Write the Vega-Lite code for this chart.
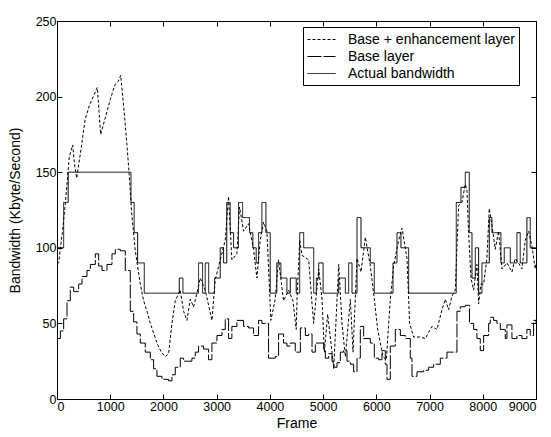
{
  "$schema": "https://vega.github.io/schema/vega-lite/v6.json",
  "autosize": {"type": "none"},
  "padding": {"left": 57, "top": 21, "right": 15, "bottom": 38},
  "width": 479,
  "height": 378,
  "background": "white",
  "config": {
    "view": {"stroke": "black", "strokeWidth": 1},
    "axis": {
      "domainColor": "black", "tickColor": "black", "tickSize": -5, "grid": false,
      "labelFont": "Liberation Sans", "labelFontSize": 12.5, "labelColor": "black",
      "titleFont": "Liberation Sans", "titleFontSize": 14, "titleFontWeight": "normal", "titleColor": "black"
    },
    "legend": {
      "orient": "none", "legendX": 246, "legendY": 6,
      "strokeColor": "black", "fillColor": "white", "padding": 4,
      "symbolType": "M-1,0H2.5", "symbolSize": 256, "symbolStrokeColor": "black", "symbolStrokeWidth": 1,
      "labelFont": "Liberation Sans", "labelFontSize": 14, "labelColor": "black", "labelOffset": 24,
      "labelLimit": 400, "rowPadding": 1, "titlePadding": 0
    }
  },
  "datasets": {
    "actual": [
      {"s": "Actual bandwidth", "f": 0, "v": 100}, {"s": "Actual bandwidth", "f": 125, "v": 130},
      {"s": "Actual bandwidth", "f": 210, "v": 150}, {"s": "Actual bandwidth", "f": 1390, "v": 130},
      {"s": "Actual bandwidth", "f": 1450, "v": 110}, {"s": "Actual bandwidth", "f": 1515, "v": 90},
      {"s": "Actual bandwidth", "f": 1640, "v": 70}, {"s": "Actual bandwidth", "f": 2297, "v": 80},
      {"s": "Actual bandwidth", "f": 2366, "v": 70}, {"s": "Actual bandwidth", "f": 2660, "v": 90},
      {"s": "Actual bandwidth", "f": 2735, "v": 70}, {"s": "Actual bandwidth", "f": 2785, "v": 90},
      {"s": "Actual bandwidth", "f": 2850, "v": 70}, {"s": "Actual bandwidth", "f": 2960, "v": 80},
      {"s": "Actual bandwidth", "f": 3067, "v": 100}, {"s": "Actual bandwidth", "f": 3130, "v": 90},
      {"s": "Actual bandwidth", "f": 3190, "v": 130}, {"s": "Actual bandwidth", "f": 3255, "v": 110},
      {"s": "Actual bandwidth", "f": 3318, "v": 100}, {"s": "Actual bandwidth", "f": 3410, "v": 130},
      {"s": "Actual bandwidth", "f": 3487, "v": 120}, {"s": "Actual bandwidth", "f": 3618, "v": 110},
      {"s": "Actual bandwidth", "f": 3680, "v": 100}, {"s": "Actual bandwidth", "f": 3743, "v": 90},
      {"s": "Actual bandwidth", "f": 3787, "v": 110}, {"s": "Actual bandwidth", "f": 3850, "v": 130},
      {"s": "Actual bandwidth", "f": 3925, "v": 110}, {"s": "Actual bandwidth", "f": 4006, "v": 70},
      {"s": "Actual bandwidth", "f": 4130, "v": 90}, {"s": "Actual bandwidth", "f": 4207, "v": 80},
      {"s": "Actual bandwidth", "f": 4257, "v": 80}, {"s": "Actual bandwidth", "f": 4320, "v": 70},
      {"s": "Actual bandwidth", "f": 4383, "v": 80}, {"s": "Actual bandwidth", "f": 4495, "v": 70},
      {"s": "Actual bandwidth", "f": 4560, "v": 110}, {"s": "Actual bandwidth", "f": 4635, "v": 100},
      {"s": "Actual bandwidth", "f": 4823, "v": 70}, {"s": "Actual bandwidth", "f": 4873, "v": 80},
      {"s": "Actual bandwidth", "f": 4917, "v": 90}, {"s": "Actual bandwidth", "f": 5000, "v": 70},
      {"s": "Actual bandwidth", "f": 5293, "v": 80}, {"s": "Actual bandwidth", "f": 5418, "v": 70},
      {"s": "Actual bandwidth", "f": 5480, "v": 90}, {"s": "Actual bandwidth", "f": 5543, "v": 70},
      {"s": "Actual bandwidth", "f": 5637, "v": 120}, {"s": "Actual bandwidth", "f": 5712, "v": 100},
      {"s": "Actual bandwidth", "f": 5887, "v": 90}, {"s": "Actual bandwidth", "f": 5962, "v": 70},
      {"s": "Actual bandwidth", "f": 6313, "v": 90}, {"s": "Actual bandwidth", "f": 6388, "v": 110},
      {"s": "Actual bandwidth", "f": 6463, "v": 100}, {"s": "Actual bandwidth", "f": 6607, "v": 70},
      {"s": "Actual bandwidth", "f": 7502, "v": 130}, {"s": "Actual bandwidth", "f": 7590, "v": 140},
      {"s": "Actual bandwidth", "f": 7671, "v": 150}, {"s": "Actual bandwidth", "f": 7746, "v": 110},
      {"s": "Actual bandwidth", "f": 7797, "v": 80}, {"s": "Actual bandwidth", "f": 7860, "v": 100},
      {"s": "Actual bandwidth", "f": 7922, "v": 70}, {"s": "Actual bandwidth", "f": 7984, "v": 90},
      {"s": "Actual bandwidth", "f": 8122, "v": 120}, {"s": "Actual bandwidth", "f": 8172, "v": 110},
      {"s": "Actual bandwidth", "f": 8341, "v": 90}, {"s": "Actual bandwidth", "f": 8404, "v": 100},
      {"s": "Actual bandwidth", "f": 8517, "v": 90}, {"s": "Actual bandwidth", "f": 8641, "v": 110},
      {"s": "Actual bandwidth", "f": 8704, "v": 90}, {"s": "Actual bandwidth", "f": 8829, "v": 120},
      {"s": "Actual bandwidth", "f": 8892, "v": 100}, {"s": "Actual bandwidth", "f": 9000, "v": 100}
    ],
    "enh": [
      {"s": "Base + enhancement layer", "f": 0, "v": 90}, {"s": "Base + enhancement layer", "f": 31, "v": 90},
      {"s": "Base + enhancement layer", "f": 100, "v": 110}, {"s": "Base + enhancement layer", "f": 156, "v": 129},
      {"s": "Base + enhancement layer", "f": 230, "v": 160}, {"s": "Base + enhancement layer", "f": 295, "v": 168},
      {"s": "Base + enhancement layer", "f": 330, "v": 155}, {"s": "Base + enhancement layer", "f": 370, "v": 146},
      {"s": "Base + enhancement layer", "f": 450, "v": 165}, {"s": "Base + enhancement layer", "f": 530, "v": 185},
      {"s": "Base + enhancement layer", "f": 607, "v": 194}, {"s": "Base + enhancement layer", "f": 680, "v": 200},
      {"s": "Base + enhancement layer", "f": 758, "v": 206}, {"s": "Base + enhancement layer", "f": 790, "v": 190},
      {"s": "Base + enhancement layer", "f": 820, "v": 175}, {"s": "Base + enhancement layer", "f": 900, "v": 185},
      {"s": "Base + enhancement layer", "f": 1000, "v": 198}, {"s": "Base + enhancement layer", "f": 1090, "v": 208},
      {"s": "Base + enhancement layer", "f": 1150, "v": 210}, {"s": "Base + enhancement layer", "f": 1197, "v": 214},
      {"s": "Base + enhancement layer", "f": 1259, "v": 191}, {"s": "Base + enhancement layer", "f": 1310, "v": 170},
      {"s": "Base + enhancement layer", "f": 1353, "v": 150}, {"s": "Base + enhancement layer", "f": 1403, "v": 123},
      {"s": "Base + enhancement layer", "f": 1471, "v": 98}, {"s": "Base + enhancement layer", "f": 1565, "v": 76},
      {"s": "Base + enhancement layer", "f": 1628, "v": 65}, {"s": "Base + enhancement layer", "f": 1700, "v": 57},
      {"s": "Base + enhancement layer", "f": 1753, "v": 50}, {"s": "Base + enhancement layer", "f": 1878, "v": 37},
      {"s": "Base + enhancement layer", "f": 1960, "v": 31}, {"s": "Base + enhancement layer", "f": 2035, "v": 28},
      {"s": "Base + enhancement layer", "f": 2097, "v": 30}, {"s": "Base + enhancement layer", "f": 2160, "v": 50},
      {"s": "Base + enhancement layer", "f": 2222, "v": 65}, {"s": "Base + enhancement layer", "f": 2316, "v": 72},
      {"s": "Base + enhancement layer", "f": 2379, "v": 58}, {"s": "Base + enhancement layer", "f": 2441, "v": 52},
      {"s": "Base + enhancement layer", "f": 2504, "v": 66}, {"s": "Base + enhancement layer", "f": 2567, "v": 61},
      {"s": "Base + enhancement layer", "f": 2629, "v": 70}, {"s": "Base + enhancement layer", "f": 2692, "v": 80},
      {"s": "Base + enhancement layer", "f": 2786, "v": 72}, {"s": "Base + enhancement layer", "f": 2911, "v": 52},
      {"s": "Base + enhancement layer", "f": 2974, "v": 79}, {"s": "Base + enhancement layer", "f": 3067, "v": 92},
      {"s": "Base + enhancement layer", "f": 3161, "v": 105}, {"s": "Base + enhancement layer", "f": 3224, "v": 134},
      {"s": "Base + enhancement layer", "f": 3286, "v": 92}, {"s": "Base + enhancement layer", "f": 3380, "v": 96},
      {"s": "Base + enhancement layer", "f": 3430, "v": 127}, {"s": "Base + enhancement layer", "f": 3506, "v": 111},
      {"s": "Base + enhancement layer", "f": 3600, "v": 116}, {"s": "Base + enhancement layer", "f": 3693, "v": 99},
      {"s": "Base + enhancement layer", "f": 3756, "v": 80}, {"s": "Base + enhancement layer", "f": 3818, "v": 105},
      {"s": "Base + enhancement layer", "f": 3881, "v": 117}, {"s": "Base + enhancement layer", "f": 3944, "v": 111},
      {"s": "Base + enhancement layer", "f": 4019, "v": 52}, {"s": "Base + enhancement layer", "f": 4100, "v": 66},
      {"s": "Base + enhancement layer", "f": 4163, "v": 92}, {"s": "Base + enhancement layer", "f": 4257, "v": 65},
      {"s": "Base + enhancement layer", "f": 4351, "v": 72}, {"s": "Base + enhancement layer", "f": 4433, "v": 65},
      {"s": "Base + enhancement layer", "f": 4495, "v": 46}, {"s": "Base + enhancement layer", "f": 4510, "v": 66},
      {"s": "Base + enhancement layer", "f": 4560, "v": 105}, {"s": "Base + enhancement layer", "f": 4604, "v": 95},
      {"s": "Base + enhancement layer", "f": 4729, "v": 92}, {"s": "Base + enhancement layer", "f": 4792, "v": 63},
      {"s": "Base + enhancement layer", "f": 4823, "v": 50}, {"s": "Base + enhancement layer", "f": 4917, "v": 86},
      {"s": "Base + enhancement layer", "f": 4980, "v": 66}, {"s": "Base + enhancement layer", "f": 5023, "v": 31},
      {"s": "Base + enhancement layer", "f": 5086, "v": 56}, {"s": "Base + enhancement layer", "f": 5167, "v": 31},
      {"s": "Base + enhancement layer", "f": 5199, "v": 20}, {"s": "Base + enhancement layer", "f": 5293, "v": 89},
      {"s": "Base + enhancement layer", "f": 5355, "v": 50}, {"s": "Base + enhancement layer", "f": 5418, "v": 28},
      {"s": "Base + enhancement layer", "f": 5512, "v": 66}, {"s": "Base + enhancement layer", "f": 5562, "v": 31},
      {"s": "Base + enhancement layer", "f": 5637, "v": 93}, {"s": "Base + enhancement layer", "f": 5712, "v": 84},
      {"s": "Base + enhancement layer", "f": 5793, "v": 107}, {"s": "Base + enhancement layer", "f": 5887, "v": 88},
      {"s": "Base + enhancement layer", "f": 5962, "v": 66}, {"s": "Base + enhancement layer", "f": 6025, "v": 46},
      {"s": "Base + enhancement layer", "f": 6125, "v": 28}, {"s": "Base + enhancement layer", "f": 6188, "v": 26},
      {"s": "Base + enhancement layer", "f": 6263, "v": 66}, {"s": "Base + enhancement layer", "f": 6325, "v": 88},
      {"s": "Base + enhancement layer", "f": 6419, "v": 105}, {"s": "Base + enhancement layer", "f": 6482, "v": 113},
      {"s": "Base + enhancement layer", "f": 6576, "v": 93}, {"s": "Base + enhancement layer", "f": 6626, "v": 50},
      {"s": "Base + enhancement layer", "f": 6701, "v": 41}, {"s": "Base + enhancement layer", "f": 6826, "v": 41},
      {"s": "Base + enhancement layer", "f": 6920, "v": 40}, {"s": "Base + enhancement layer", "f": 7045, "v": 48},
      {"s": "Base + enhancement layer", "f": 7139, "v": 46}, {"s": "Base + enhancement layer", "f": 7233, "v": 59},
      {"s": "Base + enhancement layer", "f": 7296, "v": 66}, {"s": "Base + enhancement layer", "f": 7358, "v": 59},
      {"s": "Base + enhancement layer", "f": 7421, "v": 68}, {"s": "Base + enhancement layer", "f": 7483, "v": 72},
      {"s": "Base + enhancement layer", "f": 7546, "v": 128}, {"s": "Base + enhancement layer", "f": 7609, "v": 130},
      {"s": "Base + enhancement layer", "f": 7671, "v": 142}, {"s": "Base + enhancement layer", "f": 7703, "v": 138},
      {"s": "Base + enhancement layer", "f": 7734, "v": 110}, {"s": "Base + enhancement layer", "f": 7778, "v": 80},
      {"s": "Base + enhancement layer", "f": 7828, "v": 72}, {"s": "Base + enhancement layer", "f": 7890, "v": 89},
      {"s": "Base + enhancement layer", "f": 7922, "v": 63}, {"s": "Base + enhancement layer", "f": 7966, "v": 76},
      {"s": "Base + enhancement layer", "f": 8016, "v": 76}, {"s": "Base + enhancement layer", "f": 8078, "v": 93},
      {"s": "Base + enhancement layer", "f": 8122, "v": 126}, {"s": "Base + enhancement layer", "f": 8172, "v": 115},
      {"s": "Base + enhancement layer", "f": 8234, "v": 99}, {"s": "Base + enhancement layer", "f": 8297, "v": 111},
      {"s": "Base + enhancement layer", "f": 8360, "v": 86}, {"s": "Base + enhancement layer", "f": 8454, "v": 90},
      {"s": "Base + enhancement layer", "f": 8548, "v": 84}, {"s": "Base + enhancement layer", "f": 8610, "v": 93},
      {"s": "Base + enhancement layer", "f": 8673, "v": 90}, {"s": "Base + enhancement layer", "f": 8735, "v": 86},
      {"s": "Base + enhancement layer", "f": 8798, "v": 105}, {"s": "Base + enhancement layer", "f": 8861, "v": 111},
      {"s": "Base + enhancement layer", "f": 8924, "v": 101}, {"s": "Base + enhancement layer", "f": 8986, "v": 86},
      {"s": "Base + enhancement layer", "f": 9000, "v": 90}
    ],
    "base": [
      {"s": "Base layer", "f": 0, "v": 40}, {"s": "Base layer", "f": 63, "v": 45}, {"s": "Base layer", "f": 125, "v": 53},
      {"s": "Base layer", "f": 188, "v": 65}, {"s": "Base layer", "f": 250, "v": 74}, {"s": "Base layer", "f": 313, "v": 71},
      {"s": "Base layer", "f": 407, "v": 76}, {"s": "Base layer", "f": 470, "v": 81}, {"s": "Base layer", "f": 563, "v": 85},
      {"s": "Base layer", "f": 626, "v": 89}, {"s": "Base layer", "f": 720, "v": 96}, {"s": "Base layer", "f": 783, "v": 88},
      {"s": "Base layer", "f": 845, "v": 85}, {"s": "Base layer", "f": 939, "v": 89}, {"s": "Base layer", "f": 1033, "v": 96},
      {"s": "Base layer", "f": 1096, "v": 99}, {"s": "Base layer", "f": 1190, "v": 98}, {"s": "Base layer", "f": 1283, "v": 85},
      {"s": "Base layer", "f": 1377, "v": 58}, {"s": "Base layer", "f": 1440, "v": 51}, {"s": "Base layer", "f": 1502, "v": 43},
      {"s": "Base layer", "f": 1565, "v": 37}, {"s": "Base layer", "f": 1659, "v": 31}, {"s": "Base layer", "f": 1753, "v": 26},
      {"s": "Base layer", "f": 1815, "v": 20}, {"s": "Base layer", "f": 1878, "v": 15}, {"s": "Base layer", "f": 1972, "v": 13},
      {"s": "Base layer", "f": 2097, "v": 12}, {"s": "Base layer", "f": 2160, "v": 16}, {"s": "Base layer", "f": 2222, "v": 21},
      {"s": "Base layer", "f": 2316, "v": 27}, {"s": "Base layer", "f": 2379, "v": 25}, {"s": "Base layer", "f": 2441, "v": 25},
      {"s": "Base layer", "f": 2535, "v": 27}, {"s": "Base layer", "f": 2598, "v": 31}, {"s": "Base layer", "f": 2660, "v": 35},
      {"s": "Base layer", "f": 2754, "v": 33}, {"s": "Base layer", "f": 2848, "v": 26}, {"s": "Base layer", "f": 2911, "v": 37},
      {"s": "Base layer", "f": 3005, "v": 42}, {"s": "Base layer", "f": 3100, "v": 46}, {"s": "Base layer", "f": 3161, "v": 53},
      {"s": "Base layer", "f": 3224, "v": 40}, {"s": "Base layer", "f": 3286, "v": 48}, {"s": "Base layer", "f": 3380, "v": 52},
      {"s": "Base layer", "f": 3506, "v": 48}, {"s": "Base layer", "f": 3600, "v": 47}, {"s": "Base layer", "f": 3693, "v": 42},
      {"s": "Base layer", "f": 3787, "v": 52}, {"s": "Base layer", "f": 3850, "v": 50}, {"s": "Base layer", "f": 3975, "v": 27},
      {"s": "Base layer", "f": 4100, "v": 28}, {"s": "Base layer", "f": 4163, "v": 43}, {"s": "Base layer", "f": 4257, "v": 37},
      {"s": "Base layer", "f": 4320, "v": 35}, {"s": "Base layer", "f": 4383, "v": 37}, {"s": "Base layer", "f": 4476, "v": 31},
      {"s": "Base layer", "f": 4573, "v": 47}, {"s": "Base layer", "f": 4667, "v": 42}, {"s": "Base layer", "f": 4729, "v": 43},
      {"s": "Base layer", "f": 4792, "v": 31}, {"s": "Base layer", "f": 4854, "v": 37}, {"s": "Base layer", "f": 5011, "v": 32},
      {"s": "Base layer", "f": 5042, "v": 27}, {"s": "Base layer", "f": 5105, "v": 30}, {"s": "Base layer", "f": 5167, "v": 25},
      {"s": "Base layer", "f": 5199, "v": 21}, {"s": "Base layer", "f": 5261, "v": 24}, {"s": "Base layer", "f": 5324, "v": 31},
      {"s": "Base layer", "f": 5386, "v": 32}, {"s": "Base layer", "f": 5449, "v": 25}, {"s": "Base layer", "f": 5512, "v": 23},
      {"s": "Base layer", "f": 5574, "v": 18}, {"s": "Base layer", "f": 5637, "v": 27}, {"s": "Base layer", "f": 5699, "v": 48},
      {"s": "Base layer", "f": 5762, "v": 40}, {"s": "Base layer", "f": 5887, "v": 37}, {"s": "Base layer", "f": 5962, "v": 27},
      {"s": "Base layer", "f": 6044, "v": 26}, {"s": "Base layer", "f": 6106, "v": 32}, {"s": "Base layer", "f": 6169, "v": 23},
      {"s": "Base layer", "f": 6200, "v": 13}, {"s": "Base layer", "f": 6263, "v": 35}, {"s": "Base layer", "f": 6357, "v": 46},
      {"s": "Base layer", "f": 6451, "v": 42}, {"s": "Base layer", "f": 6545, "v": 40}, {"s": "Base layer", "f": 6638, "v": 27},
      {"s": "Base layer", "f": 6670, "v": 15}, {"s": "Base layer", "f": 6764, "v": 18}, {"s": "Base layer", "f": 6889, "v": 19},
      {"s": "Base layer", "f": 6983, "v": 21}, {"s": "Base layer", "f": 7077, "v": 23}, {"s": "Base layer", "f": 7202, "v": 27},
      {"s": "Base layer", "f": 7327, "v": 31}, {"s": "Base layer", "f": 7515, "v": 58}, {"s": "Base layer", "f": 7577, "v": 61},
      {"s": "Base layer", "f": 7671, "v": 62}, {"s": "Base layer", "f": 7750, "v": 50}, {"s": "Base layer", "f": 7828, "v": 46},
      {"s": "Base layer", "f": 7890, "v": 40}, {"s": "Base layer", "f": 7953, "v": 32}, {"s": "Base layer", "f": 8016, "v": 42},
      {"s": "Base layer", "f": 8110, "v": 50}, {"s": "Base layer", "f": 8141, "v": 54}, {"s": "Base layer", "f": 8203, "v": 52},
      {"s": "Base layer", "f": 8266, "v": 50}, {"s": "Base layer", "f": 8329, "v": 46}, {"s": "Base layer", "f": 8423, "v": 40},
      {"s": "Base layer", "f": 8454, "v": 49}, {"s": "Base layer", "f": 8548, "v": 40}, {"s": "Base layer", "f": 8642, "v": 42},
      {"s": "Base layer", "f": 8736, "v": 40}, {"s": "Base layer", "f": 8829, "v": 46}, {"s": "Base layer", "f": 8892, "v": 42},
      {"s": "Base layer", "f": 8955, "v": 52}, {"s": "Base layer", "f": 9000, "v": 50}
    ]
  },
  "layer": [
    {
      "data": {"name": "actual"},
      "mark": {"type": "line", "interpolate": "step-after", "color": "black", "strokeWidth": 1},
      "encoding": {
        "x": {"field": "f", "type": "quantitative", "scale": {"domain": [0, 9000], "nice": false},
              "axis": {"orient": "bottom", "title": "Frame", "values": [0,1000,2000,3000,4000,5000,6000,7000,8000,9000], "format": "d", "labelPadding": 6, "titlePadding": 4}},
        "y": {"field": "v", "type": "quantitative", "scale": {"domain": [0, 250], "nice": false},
              "axis": {"orient": "left", "title": "Bandwidth (Kbyte/Second)", "values": [0,50,100,150,200,250], "labelPadding": 6, "titlePadding": 13}},
        "strokeDash": {"field": "s", "type": "nominal",
          "scale": {"domain": ["Base + enhancement layer", "Base layer", "Actual bandwidth"], "range": [[3, 2], [14, 2], [1, 0]]},
          "legend": {"title": null}}
      }
    },
    {
      "data": {"name": "base"},
      "mark": {"type": "line", "interpolate": "step-after", "color": "black", "strokeWidth": 1},
      "encoding": {
        "x": {"field": "f", "type": "quantitative", "axis": null},
        "y": {"field": "v", "type": "quantitative", "axis": null},
        "strokeDash": {"field": "s", "type": "nominal"}
      }
    },
    {
      "data": {"name": "enh"},
      "mark": {"type": "line", "color": "black", "strokeWidth": 1},
      "encoding": {
        "x": {"field": "f", "type": "quantitative", "axis": null},
        "y": {"field": "v", "type": "quantitative", "axis": null},
        "strokeDash": {"field": "s", "type": "nominal"}
      }
    },
    {
      "data": {"name": "actual"},
      "mark": {"type": "line", "opacity": 0},
      "encoding": {
        "x": {"field": "f", "type": "quantitative",
              "axis": {"orient": "top", "labels": false, "title": null, "domain": false, "values": [0,1000,2000,3000,4000,5000,6000,7000,8000,9000]}},
        "y": {"field": "v", "type": "quantitative",
              "axis": {"orient": "right", "labels": false, "title": null, "domain": false, "values": [0,50,100,150,200,250]}}
      }
    }
  ],
  "resolve": {"axis": {"x": "independent", "y": "independent"}}
}
